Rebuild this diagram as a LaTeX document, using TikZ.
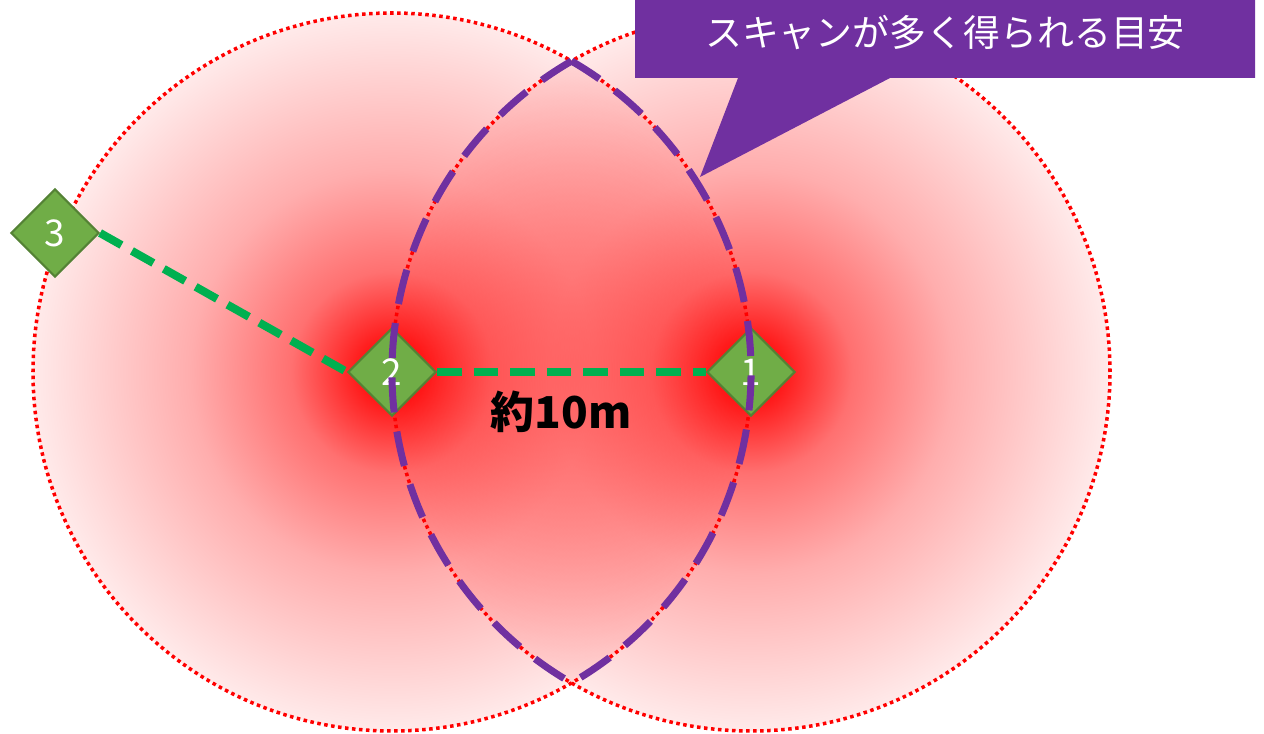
\documentclass[tikz,border=0pt]{standalone}
\usepackage{fontspec}
\newfontfamily\jpfont{Noto Sans CJK JP}
\usetikzlibrary{shapes.geometric,fadings}
\definecolor{callpurple}{RGB}{112,48,160}
\definecolor{posgreen}{RGB}{112,173,71}
\definecolor{posedge}{RGB}{84,130,53}
\definecolor{linkgreen}{RGB}{0,176,80}
\pgfdeclareradialshading{glowshade}{\pgfpointorigin}{color(0bp)=(pgftransparent!0); color(2bp)=(pgftransparent!8); color(7bp)=(pgftransparent!44); color(14bp)=(pgftransparent!68); color(25bp)=(pgftransparent!92); color(50bp)=(pgftransparent!100)}
\pgfdeclarefading{glowfade}{\pgfuseshading{glowshade}}
\tikzset{
  station/.style={diamond, draw=posedge, fill=posgreen, line width=0.6pt,
    minimum width=0.88cm, minimum height=0.88cm, inner sep=0pt,
    text=white, font=\jpfont\fontsize{10.5}{12}\selectfont},
  reach/.style={red, line width=1pt, dash pattern=on 1pt off 1pt},
  link/.style={linkgreen, line width=2.3pt, dash pattern=on 7pt off 3.4pt},
  overlap/.style={callpurple, line width=2pt, dash pattern=on 10pt off 5.5pt, line join=miter}
}
\begin{document}
\begin{tikzpicture}
  \useasboundingbox (0,0) rectangle (12.64,7.33);
  % scan positions
  \coordinate (c2) at (3.92,3.61);
  \coordinate (c1) at (7.51,3.61);
  % reach of each scan
  \fill[red, path fading=glowfade] (c2) circle (3.59);
  \draw[reach] (c2) circle (3.59);
  \fill[red, path fading=glowfade] (c1) circle (3.59);
  \draw[reach] (c1) circle (3.59);
  % stations
  \node[station] (n2) at (c2) {2};
  \node[station] (n1) at (c1) {1};
  \node[station] (n3) at (0.55,5.00) {3};
  \draw[link] (n3.east) -- (n2.west);
  \draw[link] (n2.east) -- (n1.west);
  \node[font=\jpfont\bfseries\fontsize{12.5}{14}\selectfont] (dist) at (5.61,3.21) {約10m};
  % overlap of both scans
  \draw[overlap] (5.715,6.719) arc[start angle=120, end angle=240, radius=3.59]
    arc[start angle=-60, end angle=60, radius=3.59] -- cycle;
  % callout
  \fill[callpurple] (6.35,8.0) -- (12.55,8.0) -- (12.55,6.55) -- (8.90,6.55)
    -- (7.00,5.56) -- (7.38,6.55) -- (6.35,6.55) -- cycle;
  \node[text=white, font=\jpfont\fontsize{10.5}{12}\selectfont] (note) at (9.45,7.00) {スキャンが多く得られる目安};
\end{tikzpicture}
\end{document}
